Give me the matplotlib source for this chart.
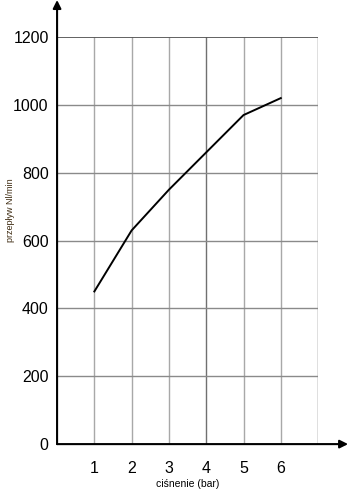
import matplotlib.pyplot as plt

plt.rcParams['font.family'] = ['Liberation Sans', 'DejaVu Sans']

cisnienie = [1, 2, 3, 4, 5, 6]
przeplyw = [450, 630, 750, 860, 970, 1020]
x_ticks = [1, 2, 3, 4, 5, 6]
y_ticks = [0, 200, 400, 600, 800, 1000, 1200]

fig = plt.figure(figsize=(3.48, 4.94), dpi=100)
ax = fig.add_axes([0.164, 0.101, 0.750, 0.824])
ax.set_xlim(0, 7)
ax.set_ylim(0, 1200)

# siatka
for x in range(1, 8):
    if x == 4:
        c = '#707070'
    elif x == 7:
        c = '#606060'
    else:
        c = '#a8a8a8'
    ax.axvline(x, color=c, lw=1.0, zorder=1)
for y in y_ticks[1:]:
    c = '#555555' if y == 1200 else '#8a8a8a'
    ax.axhline(y, color=c, lw=1.0 if y != 1200 else 1.3, zorder=1)

ax.plot(cisnienie, przeplyw, color='black', lw=1.4, zorder=3)

for s in ax.spines.values():
    s.set_visible(False)

# osie ze strzalkami
ax.annotate('', xy=(0, 1.091), xytext=(0, 0), xycoords='axes fraction',
            arrowprops=dict(arrowstyle='-|>', color='black', lw=1.5,
                            mutation_scale=12, shrinkA=0, shrinkB=0))
ax.annotate('', xy=(1.115, 0), xytext=(0, 0), xycoords='axes fraction',
            arrowprops=dict(arrowstyle='-|>', color='black', lw=1.5,
                            mutation_scale=12, shrinkA=0, shrinkB=0))

ax.set_xticks(x_ticks)
ax.set_yticks(y_ticks)
ax.tick_params(length=0, labelsize=11.5, pad=6)
ax.tick_params(axis='x', pad=12)

ax.set_xlabel('ciśnenie (bar)', fontsize=7.5, labelpad=2)
fig.text(0.03, 0.575, 'przepływ Nl/min', rotation=90, fontsize=6.5,
         color='#3d2a10', ha='center', va='center')

plt.savefig('out.png', dpi=100)
